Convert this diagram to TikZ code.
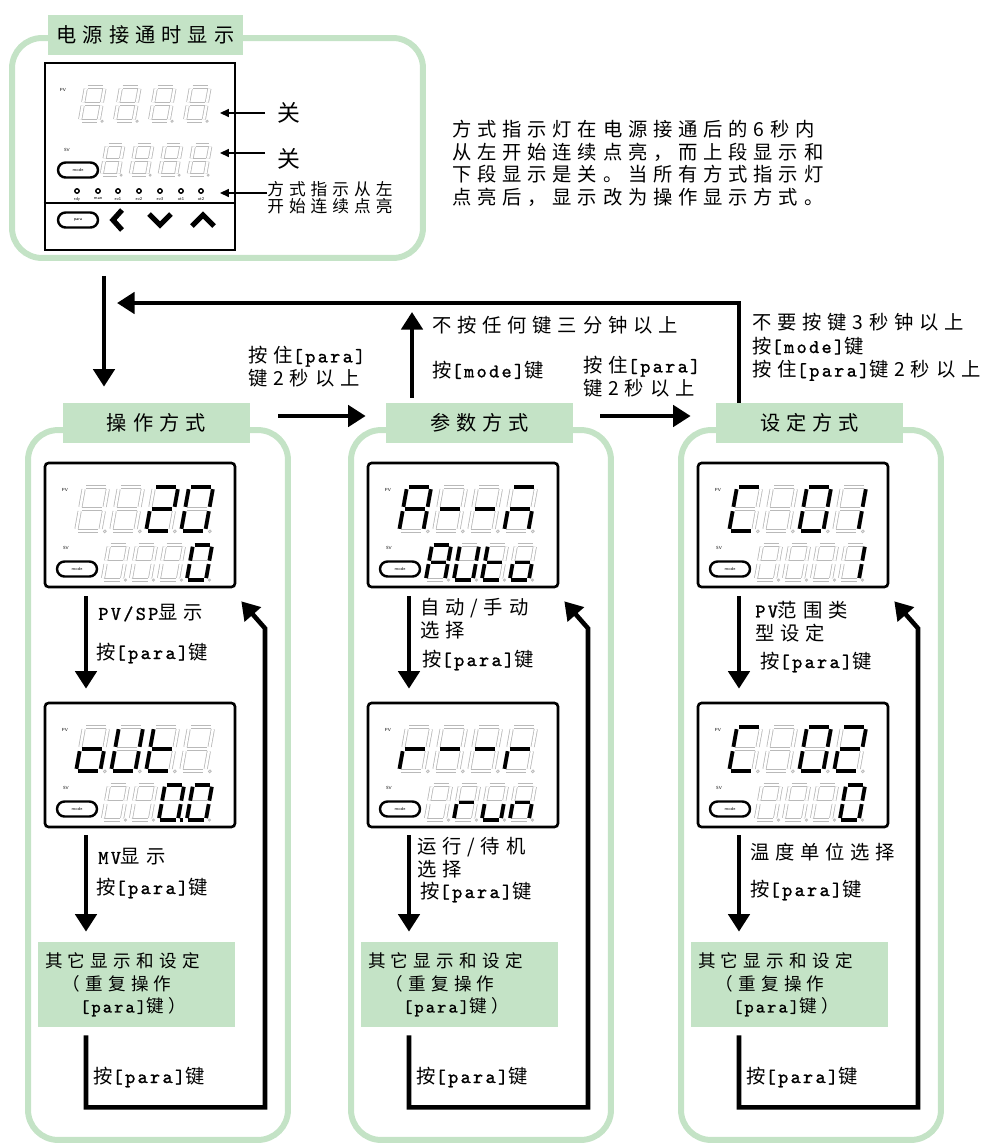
\documentclass[tikz,border=0pt]{standalone}
\usepackage{fontspec}
\setmainfont{Liberation Sans}
\newfontfamily\cjk[LetterSpace=30]{Noto Sans CJK SC}
\newfontfamily\lat[LetterSpace=12, FakeBold=1.2]{Latin Modern Mono}
\usetikzlibrary{arrows.meta, calc, positioning}
\definecolor{lgreen}{RGB}{196,227,198}
\newcommand{\kp}{{\lat[para]}}
\newcommand{\km}{{\lat[mode]}}
\tikzset{
  segon/.style={line width=2.1pt},
  segoff/.style={draw=gray!55, line width=0.45pt, double=white, double distance=1.4pt},
}
% seven segment digit: left, top, scale, lit segments
\newcommand{\dig}[4]{%
\begin{scope}[shift={(#1,#2)}, xslant=0.18, scale=#3]
\path (2,0) coordinate (sa1) (20,0) coordinate (sa2)
  (22,2) coordinate (sb1) (22,18) coordinate (sb2)
  (22,22) coordinate (sc1) (22,38) coordinate (sc2)
  (2,40) coordinate (sd1) (20,40) coordinate (sd2)
  (0,22) coordinate (se1) (0,38) coordinate (se2)
  (0,2) coordinate (sf1) (0,18) coordinate (sf2)
  (2,20) coordinate (sg1) (20,20) coordinate (sg2)
  (25,40) coordinate (sp1) (27.5,40) coordinate (sp2);
\foreach \s in {a,b,c,d,e,f,g} \draw[segoff] (s\s1) -- (s\s2);
\draw[gray!55, line width=0.45pt] (26.2,40.3) circle (1.3);
\def\lit{#4}%
\ifx\lit\empty\else
\foreach \s in {#4} \draw[segon] (s\s1) -- (s\s2);
\fi
\end{scope}}
\newcommand{\digrow}[8]{%
\dig{#1}{#2}{#3}{#5}\dig{#1+#4}{#2}{#3}{#6}\dig{#1+2*#4}{#2}{#3}{#7}\dig{#1+3*#4}{#2}{#3}{#8}}
\newcommand{\display}[3]{%
\node[dispbox] (#1) at (#2+95,#3+62) {};
\node[modekey] (#1key) at (#2+32,#3+106) {mode};
\node[tiny] (#1pv) at (#2+20,#3+27) {PV};
\node[tiny] (#1sv) at (#2+21,#3+85) {SV};}

\begin{document}
\begin{tikzpicture}[x=0.02cm, y=-0.02cm,
  frame/.style={draw=lgreen, line width=3.4pt, rounded corners=0.6cm, inner sep=0pt},
  tab/.style={fill=lgreen, minimum width=3.74cm, minimum height=0.8cm, inner sep=0pt, font=\cjk\fontsize{11.5}{13}\selectfont},
  dispbox/.style={draw, line width=1.5pt, rounded corners=2pt, minimum width=3.8cm, minimum height=2.48cm, inner sep=0pt},
  modekey/.style={draw, line width=1.4pt, rounded corners=0.15cm, minimum width=0.8cm, minimum height=0.3cm, inner sep=0pt, font=\sffamily\fontsize{2.5}{3}\selectfont},
  tiny/.style={inner sep=0pt, font=\sffamily\fontsize{2.5}{3}\selectfont},
  txt/.style={inner sep=0pt, anchor=west, align=left, font=\cjk\fontsize{11}{13}\selectfont},
  other/.style={fill=lgreen, minimum height=1.7cm, text width=3.66cm, inner xsep=0.14cm, align=left, font=\cjk\fontsize{10}{12.8}\selectfont},
  flow/.style={line width=2.6pt, >={Triangle[width=12pt,length=10pt]}},
  small/.style={line width=0.9pt, >={Triangle[width=4.5pt,length=5pt]}},
  key/.style={line width=3pt},
]
\useasboundingbox (0,0) rectangle (997,1146);

\node[frame, minimum width=8.22cm, minimum height=4.4cm] (pwr) at (217.5,148) {};
\node[tab, minimum width=3.9cm] (pwrtab) at (145.5,35) {电源接通时显示};
\node[draw, line width=1.5pt, minimum width=3.8cm, minimum height=3.74cm, inner sep=0pt] (dev) at (140,156.5) {};
\draw[line width=1.2pt] ($(dev.south west)+(0,-48)$) -- ($(dev.south east)+(0,-48)$);
\digrow{86}{87}{0.85}{35}{}{}{}{}
\digrow{107}{145}{0.75}{29}{}{}{}{}
\node[modekey] (devmode) at (78,170) {mode};
\node[modekey] (devpara) at (78,220) {para};
\node[tiny] (devpv) at (63,90) {PV};
\node[tiny] (devsv) at (67,150) {SV};
\foreach \i/\t in {77/rdy, 98/man, 118/ev1, 139/ev2, 160/ev3, 181/ot1, 201/ot2} {
  \draw[line width=0.8pt] (\i,191) circle (2.2);
  \node[tiny] (ind\i) at (\i,199) {\t};
}
\draw[key] (122,210) -- (113,220) -- (122,230);
\draw[key] (149,214) -- (160,225) -- (171,214);
\draw[key] (192,226) -- (203,215) -- (214,226);

\node[txt, anchor=center, font=\cjk\fontsize{13}{13}\selectfont] (off1) at (289,113) {关};
\node[txt, anchor=center, font=\cjk\fontsize{13}{13}\selectfont] (off2) at (289,159) {关};
\node[txt, font=\cjk\fontsize{9.5}{9.8}\selectfont] (ind) at (267,198) {方式指示从左\\开始连续点亮};
\coordinate (tip1) at (220,113);
\coordinate (tip2) at (220,153);
\coordinate (tip3) at (220,193);
\draw[small,->,shorten <=0.24cm] (off1.west) -- (tip1);
\draw[small,->,shorten <=0.24cm] (off2.west |- tip2) -- (tip2);
\draw[small,->] (ind.west |- tip3) -- (tip3);

\node[txt, anchor=north west, font=\cjk\fontsize{11}{12.8}\selectfont] (note) at (452,120) {方式指示灯在电源接通后的6秒内\\从左开始连续点亮，而上段显示和\\下段显示是关。当所有方式指示灯\\点亮后，显示改为操作显示方式。};

\foreach \c/\x/\ttl in {1/45/操作方式, 2/368/参数方式, 3/698/设定方式} {
  \node[frame, minimum width=5.2cm, minimum height=14.2cm] (frm\c) at (\x+113,785) {};
  \node[tab] (tab\c) at (\x+111.5,423) {\ttl};
  \display{dsp\c1}{\x}{463}
  \display{dsp\c2}{\x}{703}
  \node[other] (oth\c) at (\x+91.5,984.5) {其它显示和设定\\\hspace*{1em}（重复操作\\\hspace*{2em}\kp 键）};
  \node[txt] (end\c) at (\x+48,1077) {按\kp 键};
  \coordinate (k\c) at (\x+41,0);
  \coordinate (r\c) at (\x+220,0);
  \draw[flow,->,shorten <=0.16cm,shorten >=0.26cm] (dsp\c1.south -| k\c) -- (dsp\c2.north -| k\c);
  \draw[flow,->,shorten <=0.14cm,shorten >=0.2cm] (dsp\c2.south -| k\c) -- (oth\c.north -| k\c);
  \draw[flow,->,shorten <=0.16cm] (oth\c.south -| k\c) -- ++(0,80) -| ($(dsp\c1.south -| r\c)+(0,40)$) -- ($(dsp\c1.south east)+(5,13)$);
}

\digrow{84}{487}{1.1}{35}{}{}{a,b,d,e,g}{a,b,c,d,e,f}
\digrow{109}{545}{0.87}{28}{}{}{}{a,b,c,d,e,f}
\digrow{84}{727}{1.1}{35}{c,d,e,g}{b,c,d,e,f}{d,e,f,g}{}
\digrow{109}{785}{0.87}{28}{}{}{a,b,c,d,e,f,p}{a,b,c,d,e,f}
\digrow{407}{487}{1.1}{35}{a,b,c,e,f,g}{g}{g}{a,c,e,g}
\digrow{432}{545}{0.87}{28}{a,b,c,e,f,g}{b,c,d,e,f}{d,e,f,g}{c,d,e,g}
\digrow{407}{727}{1.1}{35}{e,g}{g}{g}{e,g}
\digrow{432}{785}{0.87}{28}{}{e,g}{c,d,e}{c,e,g}
\digrow{737}{487}{1.1}{35}{a,d,e,f}{}{a,b,c,d,e,f}{b,c}
\digrow{762}{545}{0.87}{28}{}{}{}{b,c}
\digrow{737}{727}{1.1}{35}{a,d,e,f}{}{a,b,c,d,e,f}{a,b,d,e,g}
\digrow{762}{785}{0.87}{28}{}{}{}{a,b,c,d,e,f}

\node[txt] (l11) at (98,613) {{\lat PV/SP}显示};
\node[txt] (l12) at (96,653) {按\kp 键};
\node[txt] (l13) at (98,857) {{\lat MV}显示};
\node[txt] (l14) at (96,888) {按\kp 键};
\node[txt] (l21) at (420,618.5) {自动/手动\\选择};
\node[txt] (l22) at (422,660) {按\kp 键};
\node[txt] (l23) at (417,857.5) {运行/待机\\选择};
\node[txt] (l24) at (420,892) {按\kp 键};
\node[txt] (l31) at (755,621.5) {{\lat PV}范围类\\型设定};
\node[txt] (l32) at (760,662) {按\kp 键};
\node[txt] (l33) at (750,852) {温度单位选择};
\node[txt] (l34) at (750,890) {按\kp 键};

\coordinate (k0) at (104,0);
\draw[flow,->,shorten <=0.3cm,shorten >=0.32cm] (pwr.south -| k0) -- (tab1.north -| k0);
\coordinate (back) at (117,303);
\draw[flow,->] (tab3.north -| k3) |- (back);
\coordinate (up) at (412,312);
\draw[flow,->,shorten <=0.1cm] (tab2.north -| up) -- (up);
\draw[flow,->] ($(tab1.east)+(28,-7)$) -- ($(tab2.west)+(-20,-7)$);
\draw[flow,->] ($(tab2.east)+(27,-7)$) -- ($(tab3.west)+(-25,-7)$);
\node[txt] (hold1) at (248,366.5) {按住\kp\\键2秒以上};
\node[txt] (hold2) at (583,376.5) {按住\kp\\键2秒以上};
\node[txt] (idle) at (432,325) {不按任何键三分钟以上};
\node[txt] (modek) at (432,370) {按\km 键};
\node[txt, font=\cjk\fontsize{11}{13.4}\selectfont] (ret) at (752,347) {不要按键3秒钟以上\\按\km 键\\按住\kp 键2秒以上};
\end{tikzpicture}
\end{document}
